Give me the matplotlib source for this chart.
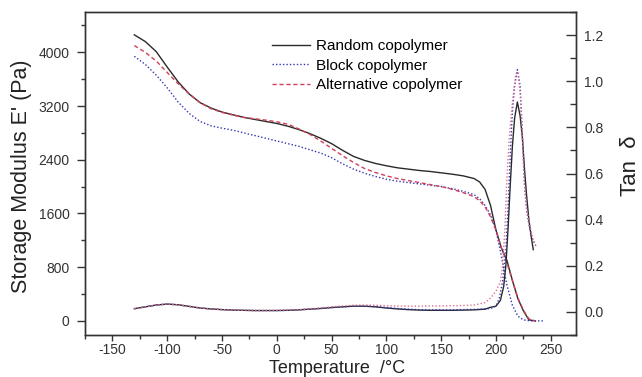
import matplotlib.pyplot as plt
from matplotlib.ticker import MultipleLocator

plt.rcParams['font.family'] = ['Liberation Sans', 'DejaVu Sans']
plt.rcParams['axes.unicode_minus'] = False

# storage modulus E' (Pa)
t_rand_e = [-130, -120, -110, -100, -90, -80, -70, -60, -50, -40, -30, -20, -10, 0, 10, 20, 30, 40,
            50, 60, 70, 80, 90, 100, 110, 120, 130, 140, 150, 160, 170, 180, 185, 190, 195, 200, 205,
            210, 215, 220, 225, 230, 236]
e_rand = [4260, 4160, 4010, 3780, 3560, 3380, 3250, 3170, 3110, 3070, 3030, 3000, 2970, 2940, 2900,
          2850, 2790, 2720, 2640, 2540, 2450, 2390, 2345, 2310, 2280, 2260, 2240, 2225, 2205, 2185,
          2160, 2120, 2070, 1960, 1720, 1350, 1080, 900, 600, 330, 150, 15, 0]

t_block_e = [-130, -120, -110, -100, -90, -80, -70, -60, -50, -40, -30, -20, -10, 0, 10, 20, 30, 40,
             50, 60, 70, 80, 90, 100, 110, 120, 130, 140, 150, 160, 170, 180, 185, 190, 195, 200,
             205, 210, 215, 220, 225, 232, 243]
e_block = [3940, 3820, 3660, 3470, 3260, 3090, 2970, 2905, 2870, 2840, 2800, 2760, 2720, 2680, 2640,
           2600, 2550, 2500, 2430, 2340, 2260, 2200, 2150, 2110, 2080, 2060, 2040, 2020, 2000, 1970,
           1930, 1880, 1820, 1720, 1580, 1350, 960, 530, 230, 70, 15, 0, 0]

t_alt_e = [-130, -120, -110, -100, -90, -80, -70, -60, -50, -40, -30, -20, -10, 0, 10, 20, 30, 40,
           50, 60, 70, 80, 90, 100, 110, 120, 130, 140, 150, 160, 170, 180, 185, 190, 195, 200, 205,
           210, 215, 220, 225, 230, 236]
e_alt = [4100, 4000, 3870, 3700, 3530, 3380, 3250, 3160, 3105, 3065, 3030, 3010, 2990, 2965, 2930,
         2860, 2780, 2680, 2570, 2460, 2360, 2270, 2210, 2160, 2120, 2090, 2060, 2030, 2000, 1960,
         1910, 1850, 1790, 1700, 1550, 1350, 1090, 860, 600, 340, 160, 30, 0]

# tan delta
t_low = [-130, -120, -110, -100, -90, -80, -70, -60, -50, -40, -30, -20, -10, 0, 10, 20, 30, 40, 50,
         60, 70, 80, 90, 100, 110, 120, 130, 140, 150, 160, 170, 180, 190]
tan_rand_low = [0.014, 0.022, 0.030, 0.034, 0.031, 0.024, 0.017, 0.013, 0.010, 0.008, 0.007, 0.006,
                0.006, 0.006, 0.007, 0.009, 0.012, 0.015, 0.019, 0.022, 0.025, 0.025, 0.022, 0.017,
                0.013, 0.010, 0.008, 0.007, 0.007, 0.007, 0.008, 0.009, 0.012]
tan_block_low = [0.014, 0.022, 0.030, 0.034, 0.031, 0.024, 0.017, 0.013, 0.010, 0.008, 0.007, 0.006,
                 0.006, 0.006, 0.007, 0.009, 0.012, 0.015, 0.019, 0.022, 0.025, 0.026, 0.023, 0.019,
                 0.015, 0.012, 0.010, 0.009, 0.009, 0.009, 0.010, 0.011, 0.013]
tan_alt_low = [0.014, 0.022, 0.030, 0.034, 0.031, 0.024, 0.017, 0.013, 0.010, 0.008, 0.007, 0.006,
               0.006, 0.007, 0.008, 0.010, 0.013, 0.017, 0.022, 0.026, 0.029, 0.030, 0.029, 0.027,
               0.026, 0.025, 0.025, 0.026, 0.026, 0.027, 0.028, 0.030, 0.040]

t_rand_pk = [195, 200, 204, 207, 209, 211, 213, 215, 217, 219.5, 222, 224, 226, 228, 230, 232, 234]
tan_rand_pk = [0.02, 0.025, 0.05, 0.11, 0.20, 0.36, 0.55, 0.72, 0.84, 0.91, 0.85, 0.76, 0.62, 0.50,
               0.40, 0.33, 0.27]
t_block_pk = [195, 200, 203, 206, 209, 211, 213, 215, 217, 219.5, 222, 224, 226, 228, 230, 233, 236]
tan_block_pk = [0.015, 0.025, 0.06, 0.13, 0.27, 0.45, 0.68, 0.87, 0.98, 1.05, 0.98, 0.78, 0.55, 0.44,
                0.38, 0.32, 0.29]
t_alt_pk = [195, 200, 204, 206, 208, 210, 212, 215, 218, 220, 222, 224, 226, 228, 231, 234, 237]
tan_alt_pk = [0.06, 0.09, 0.13, 0.20, 0.35, 0.58, 0.75, 0.91, 1.03, 1.04, 0.95, 0.76, 0.55, 0.45,
              0.37, 0.31, 0.28]

labels = ['Random copolymer', 'Block copolymer', 'Alternative copolymer']

c_rand = '#2a2a2a'
c_block = '#3535b0'
c_alt = '#d04058'

fig = plt.figure(figsize=(6.42, 3.77), dpi=100)
ax = fig.add_axes([85 / 642, 1 - 335 / 377, 491 / 642, 323 / 377])
ax2 = ax.twinx()

ax.plot(t_rand_e, e_rand, color=c_rand, lw=1.0, ls='-', label=labels[0])
ax.plot(t_block_e, e_block, color=c_block, lw=1.0, ls=(0, (1, 1.5)), label=labels[1])
ax.plot(t_alt_e, e_alt, color=c_alt, lw=1.0, ls=(0, (3, 2)), label=labels[2])

ax2.plot(t_low + t_rand_pk, tan_rand_low + tan_rand_pk, color=c_rand, lw=1.0, ls='-')
ax2.plot(t_low + t_block_pk, tan_block_low + tan_block_pk, color=c_block, lw=1.0, ls=(0, (1, 1.5)))
ax2.plot(t_low + t_alt_pk, tan_alt_low + tan_alt_pk, color='#e07090', lw=1.0, ls=(0, (1, 1.5)))

ax.set_xlim(-175, 273)
ax.set_ylim(-210, 4600)
ax2.set_ylim(-0.1, 1.3)

ax.xaxis.set_major_locator(MultipleLocator(50))
ax.xaxis.set_minor_locator(MultipleLocator(25))
ax.yaxis.set_major_locator(MultipleLocator(800))
ax.yaxis.set_minor_locator(MultipleLocator(400))
ax2.yaxis.set_major_locator(MultipleLocator(0.2))
ax2.yaxis.set_minor_locator(MultipleLocator(0.1))
ax2.yaxis.set_major_formatter(plt.FormatStrFormatter('%.1f'))

ax.tick_params(axis='both', which='major', direction='out', length=6, width=1, labelsize=10,
               colors='#333333', pad=5)
ax.tick_params(axis='both', which='minor', direction='out', length=3, width=1, colors='#333333')
ax.tick_params(axis='x', which='major', length=4, pad=2)
ax.tick_params(axis='x', which='minor', length=3)
ax2.tick_params(axis='y', which='major', direction='in', length=7, width=1, labelsize=10,
                colors='#333333', pad=6)
ax2.tick_params(axis='y', which='minor', direction='in', length=4, width=1, colors='#333333')

for a in (ax, ax2):
    for s in a.spines.values():
        s.set_color('#333333')
        s.set_linewidth(1.0)

ax.set_ylabel("Storage Modulus E' (Pa)", fontsize=15.5, color='#222222')
ax.yaxis.set_label_coords(-0.108, 0.49)
ax2.set_ylabel('Tan  δ', fontsize=16, color='#222222')
ax2.yaxis.set_label_coords(1.09, 0.525)
ax.set_xlabel('Temperature  /°C', fontsize=13, color='#222222', va='bottom')
ax.xaxis.set_label_coords(0.513, -(376.6 - 335) / 323)

ax.legend(loc='upper left', bbox_to_anchor=(0.38, 0.915), frameon=False, fontsize=11,
          handlelength=2.5, handletextpad=0.4, labelspacing=0.35, borderpad=0, borderaxespad=0)

fig.savefig('out.png', dpi=100)
